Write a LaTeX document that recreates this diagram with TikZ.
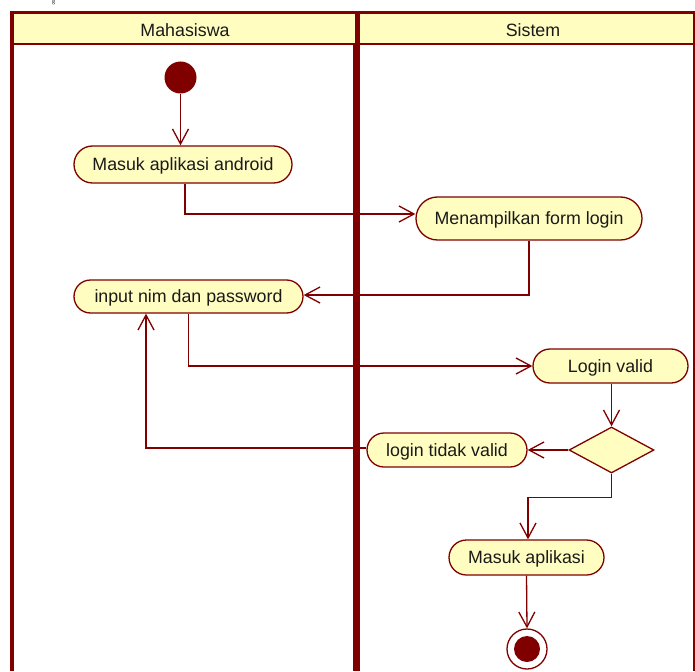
\documentclass[tikz,border=0pt]{standalone}
\usepackage{fontspec}
\setmainfont{Liberation Sans}
\newfontfamily\capfont{Liberation Serif}
\usetikzlibrary{shapes.geometric,shapes.misc,arrows.meta,calc}
\definecolor{umlred}{HTML}{800000}
\definecolor{umlfill}{HTML}{FFFDC0}
\definecolor{umltext}{HTML}{1A1A1A}
\tikzset{
  act/.style={rounded rectangle, draw=umlred, fill=umlfill, line width=1.3pt, inner sep=0pt,
    text=umltext, font=\fontsize{17.8}{21}\selectfont, text height=12.7pt, text depth=0pt},
  decis/.style={diamond, draw=umlred, fill=umlfill, line width=1.3pt, inner sep=0pt, aspect=1.85},
  flow/.style={draw=umlred, line width=1.3pt, -{Straight Barb[length=15pt,width=16pt,line width=1.3pt]}},
  lane/.style={draw=umlred},
  lanetxt/.style={text=umltext, font=\fontsize{17.8}{21}\selectfont, text height=12.7pt, text depth=0pt}
}
\begin{document}
\begin{tikzpicture}[x=1pt,y=-1pt]
\useasboundingbox (0,0) rectangle (695,671);
% caption fragment
\node[anchor=north west, inner sep=0pt, font=\capfont\fontsize{6}{7}\selectfont] (cap) at (52,0.5) {g};
% swimlanes
\fill[umlfill] (12,13) rectangle (694,43.5);
\draw[lane, line width=3pt] (12,12.5) -- (695,12.5);
\draw[lane, line width=2.5pt] (12,43.8) -- (695,43.8);
\draw[lane, line width=3.8pt] (11.9,11) -- (11.9,671);
\draw[lane, line width=5pt] (357.8,11) -- (357.8,671);
\draw[lane, line width=1.5pt] (354,44) -- (354,671);
\draw[lane, line width=3pt] (694.5,11) -- (694.5,671);
\node[lanetxt] (h1) at (185,30) {Mahasiswa};
\node[lanetxt] (h2) at (533,30) {Sistem};
% nodes
\node[circle, fill=umlred, minimum size=32pt, inner sep=0pt] (start) at (180.5,77.5) {};
\node[act, minimum width=218pt, minimum height=37pt] (a1) at (183,164.5) {Masuk aplikasi android};
\node[act, minimum width=226pt, minimum height=43pt] (a2) at (529,218.5) {Menampilkan form login};
\node[act, minimum width=229pt, minimum height=33pt] (a3) at (188.5,296.5) {input nim dan password};
\node[act, minimum width=155pt, minimum height=34pt] (a4) at (610.5,366) {Login valid};
\node[decis, minimum width=85pt, minimum height=46pt] (d) at (611.5,450) {};
\node[act, minimum width=160pt, minimum height=34pt] (a5) at (447,450) {login tidak valid};
\node[act, minimum width=155pt, minimum height=35pt] (a6) at (526.5,557.5) {Masuk aplikasi};
\node[circle, draw=umlred, line width=1.3pt, fill=white, minimum size=40pt, inner sep=0pt] (end) at (527,649) {};
\node[circle, fill=umlred, minimum size=26pt, inner sep=0pt] (endin) at (end.center) {};
% connectors
\draw[flow] (start.south) -- (start.south |- a1.north);
\draw[flow] ([xshift=2pt]a1.south) |- ([yshift=4.5pt]a2.west);
\draw[flow] (a2.south) |- ([yshift=1.5pt]a3.east);
\draw[flow] (a3.south) |- (a4.west);
\draw[flow] ([xshift=1pt]a4.south) -- ([xshift=1pt]a4.south |- d.north);
\draw[flow] (d.west) -- (a5.east);
\draw[flow] ([yshift=2pt]a5.west) -| ([xshift=-42.5pt]a3.south);
\draw[flow] (d.south) -- ++(0,24) -| ([xshift=1.5pt]a6.north);
\draw[flow] (a6.south) -- (end.north);
\end{tikzpicture}
\end{document}
